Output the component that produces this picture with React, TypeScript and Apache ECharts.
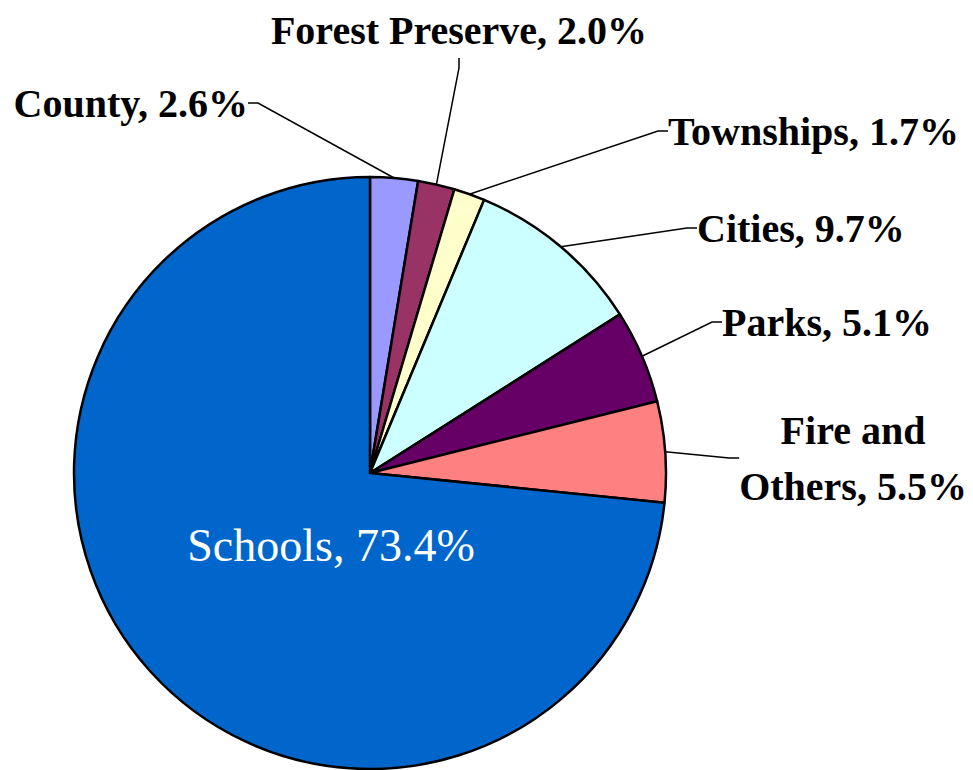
import React, { useEffect, useRef } from "react";
import * as echarts from "echarts";

const categories = ["County", "Forest Preserve", "Townships", "Cities", "Parks", "Fire and Others", "Schools"];
const labelNames = ["County", "Forest Preserve", "Townships", "Cities", "Parks", "Fire and\nOthers", "Schools"];
const shares = [2.6, 2.0, 1.7, 9.7, 5.1, 5.5, 73.4];
const colors = ["#9999FF", "#993366", "#FFFFCC", "#CCFFFF", "#660066", "#FF8080", "#0066CC"];

// label anchor layout: [x, y, align]
const labelAnchors: [number, number, string][] = [
  [248, 103, "right"],
  [459, 30, "center"],
  [668, 131, "left"],
  [697, 228, "left"],
  [722, 322, "left"],
  [853, 458, "center"],
  [331, 545, "center"],
];

const FONT = "'Liberation Serif', 'DejaVu Serif', serif";

export default function App() {
  const ref = useRef<HTMLDivElement>(null);
  useEffect(() => {
    if (!ref.current) return;
    const chart = echarts.init(ref.current, null, { renderer: "svg" });
    const data = categories.map((name, i) => {
      const isSchools = name === "Schools";
      return {
        name,
        value: shares[i],
        itemStyle: { color: colors[i] },
        label: {
          formatter: `${labelNames[i]}, ${shares[i].toFixed(1)}%`,
          color: isSchools ? "#ffffff" : "#000000",
          fontSize: isSchools ? 46 : 40,
          fontWeight: isSchools ? "normal" : "bold",
          lineHeight: isSchools ? 50 : 56,
        },
        labelLine: { show: !isSchools },
      };
    });
    chart.setOption({
      animation: false,
      backgroundColor: "#ffffff",
      series: [
        {
          type: "pie",
          center: [370, 473],
          radius: 296,
          startAngle: 90,
          clockwise: true,
          avoidLabelOverlap: false,
          data,
          itemStyle: { borderColor: "#000000", borderWidth: 2.5 },
          label: {
            show: true,
            position: "outside",
            fontFamily: FONT,
          },
          labelLine: {
            show: true,
            length: 20,
            length2: 10,
            lineStyle: { color: "#000000", width: 1.5 },
          },
          labelLayout: (params: any) => {
            const a = labelAnchors[params.dataIndex];
            return { x: a[0], y: a[1], align: a[2], verticalAlign: "middle" };
          },
        },
      ],
    });
    return () => chart.dispose();
  }, []);
  return (
    <div
      ref={ref}
      style={{ position: "fixed", left: 0, top: 0, width: 973, height: 770 }}
    />
  );
}
